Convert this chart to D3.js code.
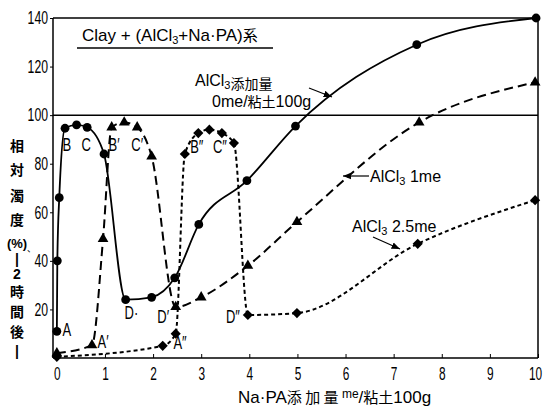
<!DOCTYPE html>
<html><head><meta charset="utf-8">
<script src="https://cdnjs.cloudflare.com/ajax/libs/d3/7.8.5/d3.min.js"></script>
<style>
body{margin:0;background:#fff;}
svg text{fill:#000;}
.num{font-family:"Liberation Sans",Arial,sans-serif;}
.cjk{font-family:"Noto Sans CJK JP",sans-serif;}
</style></head>
<body><svg id="c" width="545" height="408"></svg>
<script>
// ---- data ----
const xTicks = [0,1,2,3,4,5,6,7,8,9,10];
const yTicks = [20,40,60,80,100,120,140];
const s0x = [0, 0.01, 0.05, 0.17, 0.41, 0.63, 0.98, 1.43, 1.97, 2.45, 2.95, 3.95, 4.96, 7.48, 9.96];
const s0y = [11, 40, 66, 94.6, 96, 95, 84, 24, 25, 33, 55, 73, 95.5, 129, 140];
const s1x = [0, 0.73, 0.96, 1.14, 1.4, 1.67, 1.97, 2.47, 3.0, 3.97, 4.99, 7.53, 9.94];
const s1y = [2, 5.3, 49, 95, 97, 95, 83, 21, 25, 38, 56, 97, 113.5];
const s2x = [0, 2.2, 2.47, 2.66, 2.94, 3.17, 3.43, 3.68, 3.97, 4.99, 7.5, 9.94];
const s2y = [0.5, 5, 10, 84, 92.6, 94, 92.6, 88.5, 17.7, 18.5, 47, 65];
const pointLabels = [
  {t:"A", x:0.21, y:11.5}, {t:"B", x:0.21, y:87.7}, {t:"C", x:0.61, y:87.7}, {t:"D·", x:1.55, y:18.5},
  {t:"A′", x:0.96, y:6.6}, {t:"B′", x:1.19, y:87.7}, {t:"C′", x:1.67, y:87.7}, {t:"D′", x:2.21, y:16.9},
  {t:"A″", x:2.56, y:6.2}, {t:"B″", x:2.91, y:86.9}, {t:"C″", x:3.39, y:86.9}, {t:"D″", x:3.66, y:16.9}
];

const svg = d3.select("#c");
const x = d3.scaleLinear().domain([-0.08, 10]).range([53, 538]);
const y = d3.scaleLinear().domain([0, 140]).range([358, 18]);

function condense(sel, f){
  sel.each(function(){
    const w = this.getComputedTextLength();
    d3.select(this).attr("textLength", (w*f).toFixed(1)).attr("lengthAdjust","spacingAndGlyphs");
  });
}

// frame
svg.append("line").attr("x1",53).attr("x2",538).attr("y1",y(140)).attr("y2",y(140)).attr("stroke","#000").attr("stroke-width",1.5);
svg.append("line").attr("x1",538).attr("x2",538).attr("y1",y(140)).attr("y2",y(0)).attr("stroke","#000").attr("stroke-width",1.5);
svg.append("line").attr("x1",53).attr("x2",538).attr("y1",y(100)).attr("y2",y(100)).attr("stroke","#000").attr("stroke-width",1.5);

// axes
const xAxis = d3.axisBottom(x).tickValues(xTicks).tickSize(-4).tickPadding(9).tickFormat(d3.format("d"));
const gx = svg.append("g").attr("transform",`translate(0,${y(0)})`).call(xAxis);
gx.select(".domain").attr("d",`M53,0H538`).attr("stroke-width",1.5);
gx.selectAll("text").attr("class","num").attr("font-family",null).style("font-size","18px")
  .attr("dx", d => d === 10 ? -3 : 0);
condense(gx.selectAll("text"), 0.66);

const yAxis = d3.axisLeft(y).tickValues(yTicks).tickSize(3).tickPadding(2);
const gy = svg.append("g").attr("transform",`translate(53,0)`).call(yAxis);
gy.select(".domain").attr("d",`M0,${y(0)}V${y(140)}`).attr("stroke-width",1.5);
gy.selectAll("text").attr("class","num").attr("font-family",null).style("font-size","18px");
condense(gy.selectAll("text"), 0.68);

// lines
function draw(xs, ys, dash, w){
  const pts = xs.map((d,i)=>[d, ys[i]]);
  svg.append("path").datum(pts)
    .attr("d", d3.line().x(d=>x(d[0])).y(d=>y(d[1])).curve(d3.curveMonotoneX))
    .attr("fill","none").attr("stroke","#000").attr("stroke-width",w)
    .attr("stroke-dasharray", dash);
  return pts;
}
const p0 = draw(s0x, s0y, null, 1.8);
const p1 = draw(s1x, s1y, "9,5", 2);
const p2 = draw(s2x, s2y, "4,3", 2);

svg.append("g").selectAll("circle").data(p0).join("circle")
  .attr("cx",d=>x(d[0])).attr("cy",d=>y(d[1])).attr("r",4.4).attr("fill","#000");
svg.append("g").selectAll("path").data(p1).join("path")
  .attr("transform",d=>`translate(${x(d[0])},${y(d[1])})`)
  .attr("d", d3.symbol(d3.symbolTriangle, 50)).attr("fill","#000");
svg.append("g").selectAll("path").data(p2).join("path")
  .attr("transform",d=>`translate(${x(d[0])},${y(d[1])}) rotate(45)`)
  .attr("d","M-3.6,-3.6H3.6V3.6H-3.6Z").attr("fill","#000");

// point labels
const pl = svg.append("g").selectAll("text").data(pointLabels).join("text")
  .attr("class","num").attr("x",d=>x(d.x)).attr("y",d=>y(d.y)).attr("dy","0.35em")
  .attr("text-anchor","middle").style("font-size","18px").text(d=>d.t);
condense(pl, 0.72);

// title
const tt = svg.append("text").attr("class","num").attr("x",82).attr("y",41).style("font-size","17px");
tt.append("tspan").text("Clay + (AlCl");
tt.append("tspan").attr("dy",3).style("font-size","11px").text("3");
tt.append("tspan").attr("dy",-3).text("+Na·PA)");
tt.append("tspan").attr("class","cjk").style("font-size","15px").text("系");
svg.append("line").attr("x1",77).attr("x2",273).attr("y1",48).attr("y2",48).attr("stroke","#000").attr("stroke-width",1.5);

// series annotations
function alcl(g, xx, yy, rest, cjk){
  const t = g.append("text").attr("class","num").attr("x",xx).attr("y",yy).style("font-size","16px");
  t.append("tspan").text("AlCl");
  t.append("tspan").attr("dy",3).style("font-size","11px").text("3");
  t.append("tspan").attr("dy",-3).text(rest);
  if (cjk) t.append("tspan").attr("class","cjk").style("font-size","14px").text(cjk);
  return t;
}
alcl(svg, 195, 86, "", "添加量");
const t2 = svg.append("text").attr("class","num").attr("x",212).attr("y",107).style("font-size","16px");
t2.append("tspan").text("0me/");
t2.append("tspan").attr("class","cjk").style("font-size","14px").text("粘土");
t2.append("tspan").text("100g");
alcl(svg, 370, 182, "  1me");
alcl(svg, 352, 232, " 2.5me");

const defs = svg.append("defs");
defs.append("marker").attr("id","ah").attr("viewBox","0 0 10 10").attr("refX",10).attr("refY",5)
  .attr("markerWidth",7).attr("markerHeight",7).attr("orient","auto")
  .append("path").attr("d","M0,1L10,5L0,9Z").attr("fill","#000");
function arrow(x1,y1,x2,y2){
  svg.append("line").attr("x1",x1).attr("y1",y1).attr("x2",x2).attr("y2",y2)
    .attr("stroke","#000").attr("stroke-width",1.2).attr("marker-end","url(#ah)");
}
arrow(309,88,332,97);
arrow(369,176,343,176);
arrow(373,237,400,249);

// y axis title (vertical)
const yChars = [["相",146],["対",170],["濁",196],["度",220],["(%)",243],["|",259],["2",274],["時",292],["間",312],["後",332],["|",351]];
svg.append("g").selectAll("text").data(yChars).join("text")
  .attr("class",d=>/[A-Za-z0-9%()|]/.test(d[0])?"num":"cjk")
  .attr("x",17).attr("y",d=>d[1]).attr("dy","0.35em").attr("text-anchor","middle")
  .style("font-size",d=>d[0]==="(%)"?"13px":"14px").style("font-weight","bold").text(d=>d[0]);
svg.append("text").attr("class","cjk").attr("x",27).attr("y",252).style("font-size","9px").text("、");

// x axis title
const xt = svg.append("text").attr("class","num").attr("x",238).attr("y",403).style("font-size","17px");
xt.append("tspan").text("Na·PA");
xt.append("tspan").attr("class","cjk").style("font-size","15px").text("添 加 量 ");
xt.append("tspan").attr("dy",-5).style("font-size","12px").text("me");
xt.append("tspan").attr("dy",5).text("/");
xt.append("tspan").attr("class","cjk").style("font-size","15px").text("粘土");
xt.append("tspan").text("100g");
</script></body></html>
